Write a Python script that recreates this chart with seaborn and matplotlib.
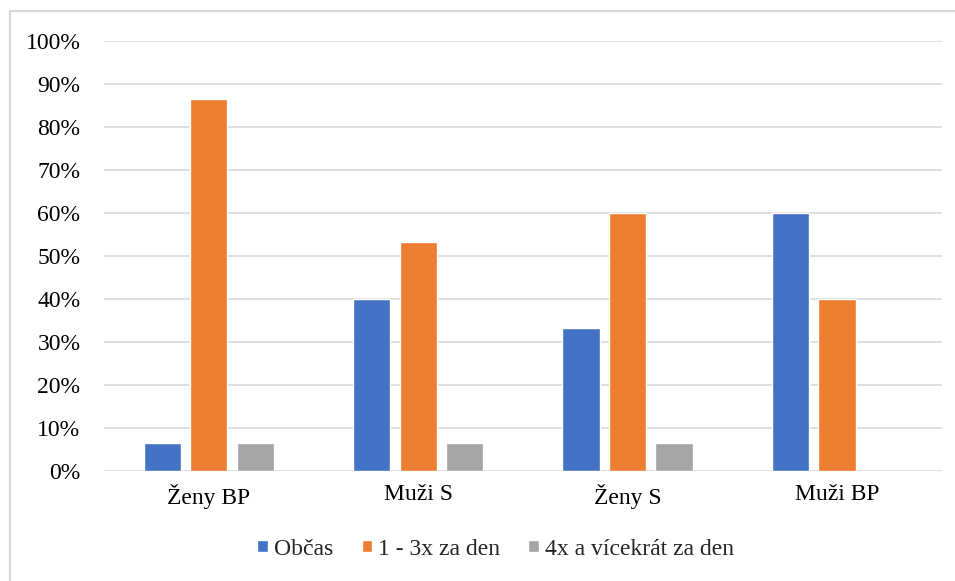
import pandas as pd
import numpy as np
import matplotlib.pyplot as plt
import seaborn as sns
from matplotlib.patches import Rectangle
from matplotlib.ticker import PercentFormatter

# Data (share of respondents)
groups = ["Ženy BP", "Muži S", "Ženy S", "Muži BP"]
series = ["Občas", "1 - 3x za den", "4x a vícekrát za den"]
obcas = [6.67, 40.0, 33.33, 60.0]
jednou_az_trikrat = [86.67, 53.33, 60.0, 40.0]
ctyrikrat_a_vice = [6.67, 6.67, 6.67, 0.0]
colors = ["#4472C4", "#ED7D31", "#A5A5A5"]

df = pd.DataFrame({
    "Skupina": groups * 3,
    "Frekvence": [s for s in series for _ in groups],
    "Podil": obcas + jednou_az_trikrat + ctyrikrat_a_vice,
})

sns.set_theme(style="white")
plt.rcParams['font.family'] = ['Liberation Serif', 'DejaVu Serif']

fig = plt.figure(figsize=(9.55, 5.81), dpi=100)
ax = fig.add_axes([0.109, 0.189, 0.877, 0.740])

sns.barplot(data=df, x="Skupina", y="Podil", hue="Frekvence",
            hue_order=series, order=groups, palette=colors,
            width=0.666, gap=0.2, saturation=1, ax=ax)

ax.set_ylim(0, 100)
ax.set_yticks(np.arange(0, 101, 10))
ax.yaxis.set_major_formatter(PercentFormatter(decimals=0))
ax.grid(axis="y", color="#D9D9D9", linewidth=1.2)
ax.set_axisbelow(True)
for s in ax.spines.values():
    s.set_visible(False)
ax.tick_params(axis="both", length=0, labelsize=17, colors="black")
ax.tick_params(axis="y", pad=17)
ax.tick_params(axis="x", pad=9)
ax.set_xlabel("")
ax.set_ylabel("")

handles, labels = ax.get_legend_handles_labels()
ax.legend(handles, labels, loc="center", bbox_to_anchor=(0.519, 0.055),
          bbox_transform=fig.transFigure, ncol=3, frameon=False,
          fontsize=17, handlelength=0.45, handleheight=0.45,
          handletextpad=0.25, columnspacing=1.2)

# chart border (only top and left edges are inside the image)
fig.patches.append(Rectangle((10 / 955, -10 / 581), 960 / 955, 580 / 581,
                             transform=fig.transFigure, fill=False,
                             edgecolor="#D9D9D9", linewidth=1.5))

fig.savefig("out.png", dpi=100)
